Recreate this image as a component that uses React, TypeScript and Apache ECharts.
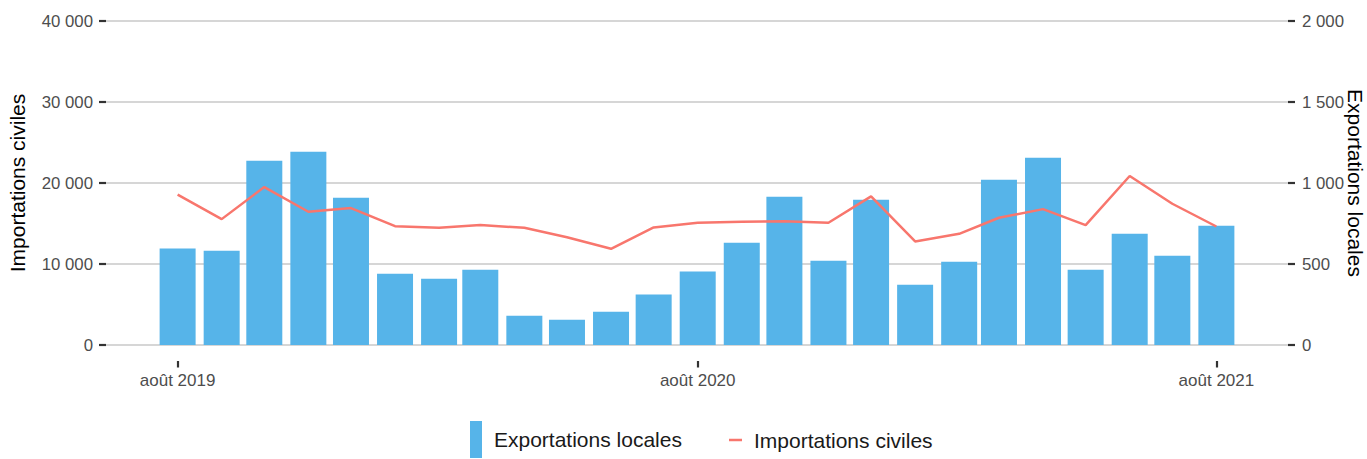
import React, { useEffect, useRef } from "react";
import * as echarts from "echarts";

// Months from août 2019 to août 2021 (year, monthIndex)
const startYear = 2019;
const startMonth = 7; // août
const monthCount = 25;

const frMonths = ["janv.", "févr.", "mars", "avr.", "mai", "juin", "juil.", "août", "sept.", "oct.", "nov.", "déc."];

// Exportations locales (right axis, bars)
const exportations = [
  595, 582, 1138, 1193, 909, 440, 409, 465, 181, 156, 206, 311, 453,
  631, 915, 520, 897, 372, 514, 1020, 1156, 465, 687, 551, 736,
];

// Importations civiles (left axis, line)
const importations = [
  18555, 15540, 19500, 16450, 16900, 14670, 14470, 14800, 14470, 13310, 11875, 14510, 15090,
  15215, 15290, 15090, 18345, 12780, 13730, 15710, 16775, 14800, 20860, 17440, 14630,
];

const xTickDates: [number, number][] = [
  [2019, 7],
  [2020, 7],
  [2021, 7],
];

const seriesNames = ["Exportations locales", "Importations civiles"];
const leftAxisName = "Importations civiles";
const rightAxisName = "Exportations locales";

const fmt = (v: number) => String(Math.round(v)).replace(/\B(?=(\d{3})+(?!\d))/g, " ");

const DAY = 86400000;
const origin = Date.UTC(startYear, startMonth, 1);
const toDay = (y: number, m: number) => Math.round((Date.UTC(y, m, 1) - origin) / DAY);

export default function App() {
  const ref = useRef<HTMLDivElement>(null);

  useEffect(() => {
    if (!ref.current) return;
    const chart = echarts.init(ref.current, undefined, { renderer: "svg" });

    const days = Array.from({ length: monthCount }, (_, i) => toDay(startYear, startMonth + i));
    const xMin = days[0] - 50.4;
    const xMax = days[days.length - 1] + 50.4;
    const tickVals = xTickDates.map(([y, m]) => toDay(y, m));

    const font = "'Liberation Sans', Arial, sans-serif";

    chart.setOption({
      animation: false,
      textStyle: { fontFamily: font },
      grid: { left: 106, right: 79, top: 21, bottom: 114, containLabel: false, outerBoundsMode: "none" },
      legend: [
        {
          data: [seriesNames[0]],
          left: 470,
          top: 421,
          icon: "rect",
          itemWidth: 12,
          itemHeight: 37,
          itemGap: 0,
          textStyle: { fontSize: 21, color: "#1a1a1a", fontFamily: font, padding: [0, 0, 0, 7] },
          padding: 0,
        },
        {
          data: [seriesNames[1]],
          left: 729,
          top: 428,
          icon: "rect",
          itemWidth: 13,
          itemHeight: 2.5,
          itemGap: 0,
          textStyle: { fontSize: 21, lineHeight: 24, color: "#1a1a1a", fontFamily: font, padding: [0, 0, 0, 7] },
          padding: 0,
        },
      ],
      xAxis: {
        type: "value",
        min: xMin,
        max: xMax,
        offset: 16,
        axisLine: { show: false, onZero: false },
        splitLine: { show: false },
        axisTick: {
          show: true,
          length: 6.5,
          lineStyle: { color: "#333333", width: 2.2 },
          customValues: tickVals,
        },
        axisLabel: {
          customValues: tickVals,
          margin: 11,
          fontSize: 17,
          color: "#4d4d4d",
          fontFamily: font,
          formatter: (v: number) => {
            const d = new Date(origin + Math.round(v) * DAY);
            return `${frMonths[d.getUTCMonth()]} ${d.getUTCFullYear()}`;
          },
        },
      },
      yAxis: [
        {
          type: "value",
          min: 0,
          max: 40000,
          interval: 10000,
          position: "left",
          name: leftAxisName,
          nameLocation: "middle",
          nameGap: 78,
          nameMoveOverlap: false,
          nameTextStyle: { fontSize: 21, color: "#000000", fontFamily: font },
          axisLine: { show: false, onZero: false },
          axisTick: { show: true, length: 7, lineStyle: { color: "#333333", width: 2.2 } },
          axisLabel: { margin: 13, fontSize: 16.8, color: "#4d4d4d", fontFamily: font, formatter: fmt },
          splitLine: { show: true, lineStyle: { color: "#d6d6d6", width: 2.2 } },
        },
        {
          type: "value",
          min: 0,
          max: 2000,
          interval: 500,
          position: "right",
          name: rightAxisName,
          nameLocation: "middle",
          nameRotate: -90,
          nameGap: 57,
          nameMoveOverlap: false,
          nameTextStyle: { fontSize: 21, color: "#000000", fontFamily: font },
          axisLine: { show: false, onZero: false },
          axisTick: { show: true, length: 7, lineStyle: { color: "#333333", width: 2.2 } },
          axisLabel: { margin: 14, fontSize: 16.8, color: "#4d4d4d", fontFamily: font, formatter: fmt },
          splitLine: { show: false },
        },
      ],
      series: [
        {
          name: seriesNames[0],
          type: "bar",
          yAxisIndex: 1,
          barWidth: 36,
          itemStyle: { color: "#56B4E9" },
          data: days.map((d, i) => [d, exportations[i]]),
        },
        {
          name: seriesNames[1],
          type: "line",
          yAxisIndex: 0,
          showSymbol: false,
          symbol: "none",
          lineStyle: { color: "#F8766D", width: 2.5 },
          itemStyle: { color: "#F8766D" },
          data: days.map((d, i) => [d, importations[i]]),
        },
      ],
    });

    return () => chart.dispose();
  }, []);

  return (
    <div
      ref={ref}
      style={{ position: "fixed", left: 0, top: 0, width: 1367, height: 459, background: "#ffffff" }}
    />
  );
}
